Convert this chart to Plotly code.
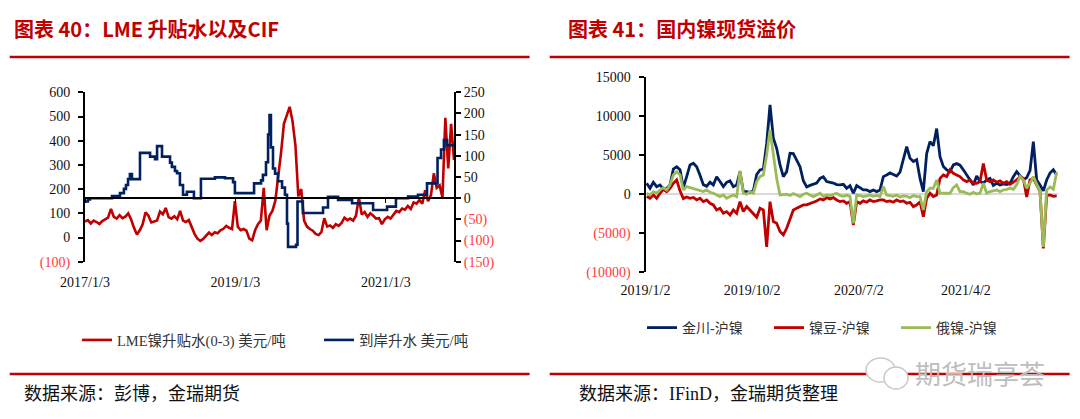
import pandas as pd
import plotly.graph_objects as go

W, H = 1080, 419

# ---------------- Left panel: LME premium (left axis) & CIF premium (right axis) -------------
lme_start = "2017-01-03"
lme_values = [66, 72, 58, 70, 64, 56, 68, 75, 82, 118,
              85, 78, 92, 80, 86, 100, 74, 40, 12, 30,
              55, 104, 90, 62, 66, 70, 107, 96, 122, 84,
              78, 88, 75, 110, 70, 64, 72, 40, 15, -5,
              -14, -6, 8, 20, 10, 22, 18, 30, 36, 48,
              40, 35, 150, 45, 30, 35, 28, -5, -12, 30,
              55, 70, 205, 30, 90, 110, 150, 240, 350, 470,
              510, 540, 480, 380, 170, 200, 70, 45, 35, 28,
              15, 10, 22, 80, 45, 50, 40, 55, 48, 60,
              82, 72, 78, 70, 90, 165, 95, 105, 85, 100,
              90, 78, 80, 55, 75, 85, 78, 95, 110, 105,
              120, 115, 130, 118, 145, 140, 155, 140, 195, 150,
              175, 265, 205, 215, 165, 495, 285, 470, 320]
lme_dates = pd.date_range(lme_start, periods=len(lme_values), freq="14D")

cif_dates = ["2017-01-03", "2017-01-17", "2017-01-27", "2017-05-14", "2017-06-22",
             "2017-07-11", "2017-07-21", "2017-07-31", "2017-08-09", "2017-08-19",
             "2017-09-27", "2017-11-15", "2017-12-09", "2017-12-19", "2018-01-12",
             "2018-02-20", "2018-03-01", "2018-03-16", "2018-03-26", "2018-04-09",
             "2018-04-24", "2018-05-13", "2018-06-16", "2018-07-20", "2018-09-26",
             "2018-11-14", "2018-12-23", "2019-01-01", "2019-04-04", "2019-05-08",
             "2019-05-17", "2019-06-01", "2019-06-11", "2019-06-18", "2019-06-25",
             "2019-07-05", "2019-07-15", "2019-07-29", "2019-08-18", "2019-09-01",
             "2019-09-11", "2019-09-16", "2019-10-25", "2019-11-01", "2019-11-27",
             "2020-03-04", "2020-03-28", "2020-05-16", "2020-07-23", "2020-11-02",
             "2021-01-09", "2021-02-21", "2021-04-21", "2021-06-08", "2021-07-22",
             "2021-09-11", "2021-09-28", "2021-10-12", "2021-10-27", "2021-11-30"]
cif_values = [-8, -3, 0, 5, 12,
              22, 31, 45, 57, 45,
              107, 98, 92, 123, 98,
              84, 74, 64, 59, 31,
              8, 15, 0, 46, 49,
              47, 38, 12, 35, 42,
              55, 85, 150, 196, 120,
              70, 58, 40, 25, 8,
              -60, -115, -110, -8, -35,
              -22, 3, -4, -12, -28,
              -20, 0, 4, 8, 35,
              95, 115, 137, 125, 125]

left_range = ["2017-01-03", "2021-11-30"]
left_x_ticks = ["2017-01-03", "2019-01-03", "2021-01-03"]
left_x_labels = ["2017/1/3", "2019/1/3", "2021/1/3"]
left_y_ticks = [-100, 0, 100, 200, 300, 400, 500, 600]
left_y2_ticks = [-150, -100, -50, 0, 50, 100, 150, 200, 250]

# ---------------- Right panel: domestic nickel spot premiums ----------------
prem_start = "2019-01-05"
jinchuan = [1370, 730, 1500, 940, 1160, 640, 700, 1160, 3200, 3500,
            3100, 800, 2230, 3730, 3940, 3500, 2400, 1200, 1000, 1500,
            1160, 2200, 1600, 940, 1500, 1700, 940, 1160, 2870, 300,
            300, 200, 400, 2500, 3090, 3200, 6500, 11450, 7160, 5870,
            3730, 2230, 2870, 5230, 5200, 4400, 3500, 1700, 900, 1100,
            1300, 1400, 2000, 2200, 1600, 1500, 1400, 1200, 1160, 1240,
            730, 1070, 90, 1070, 730, 510, 510, 300, 510, 300,
            510, 2230, 2440, 2700, 2500, 2300, 2800, 4500, 6090, 4590,
            4160, 4400, 2000, 300, 5200, 6730, 6200, 8400, 4800, 3520,
            3100, 2870, 3730, 3900, 3700, 3100, 2500, 1800, 1160, 2300,
            1600, 1400, 1800, 2000, 1100, 1370, 1160, 1300, 1200, 1370,
            2230, 2870, 2300, 1800, 2100, 3000, 6730, 1800, 1160, 400,
            1790, 2690, 3120, 2440]
nidou = [-340, -560, -130, -560, 90, 600, 300, 730, 1370, 1800,
         400, -600, -400, -560, -450, -770, -560, -990, -770, -1200,
         -1410, -2060, -1840, -2490, -2270, -2700, -2060, -2490, -1000, -2270,
         -1630, -2060, -2490, -3000, -1840, -2060, -6800, -990, -3560, -3770,
         -4840, -5270, -4420, -3340, -2060, -1840, -1630, -1410, -1410, -1200,
         -1070, -900, -640, -770, -470, -640, -470, -770, -990, -900,
         -1200, -990, -3990, -990, -1200, -900, -1070, -770, -990, -900,
         -770, -770, -990, -900, -1070, -770, -990, -900, -1200, -1070,
         -1630, -1410, -990, -2920, -560, 90, -340, -130, 2000, 2440,
         2230, 3090, 2660, 2440, 2230, 1800, 1590, 1800, 1370, 1370,
         1590, 3900, 1800, 1590, 1800, 1500, 1670, 1370, 1590, 1240,
         1500, 1800, 2230, 2000, -400, 1800, 2000, 1160, 300, -7000,
         -200, -130, -300, -250]
eni = [90, -130, 300, 90, 510, 810, 510, 1160, 2440, 2870,
       2440, 510, 940, 810, 730, 510, 390, 300, 510, 210,
       90, -130, -340, -130, -560, -340, -130, -340, 3000, 90,
       -40, 300, 90, 1590, 2230, 2440, 5020, 8230, 4800, 2000,
       -130, -130, -40, -210, 40, -130, -340, -40, 90, -130,
       -340, -130, 90, -340, -130, -210, -40, 90, -200, -300,
       -150, -340, -3770, -130, -200, -340, -250, -130, -300, -200,
       -340, 940, -130, -200, -300, -130, -400, -250, -300, -470,
       -200, -340, -340, -2060, 300, 730, 730, 1800, 90, 90,
       90, 90, 810, 1160, 300, 300, 100, -40, 200, 0,
       100, 1370, 90, 300, 400, 510, 300, 510, 600, 730,
       600, 1160, 2230, 1800, 730, 1370, 2230, 1160, 300, -6800,
       500, 900, 600, 2800]
prem_dates = pd.date_range(prem_start, periods=len(jinchuan), freq="205h")

right_range = ["2019-01-02", "2021-11-24"]
right_x_ticks = ["2019-01-02", "2019-10-02", "2020-07-02", "2021-04-02"]
right_x_labels = ["2019/1/2", "2019/10/2", "2020/7/2", "2021/4/2"]
right_y_ticks = [-10000, -5000, 0, 5000, 10000, 15000]

# ---------------- styling ----------------
RED = "#C00000"
NAVY = "#002060"
GREEN = "#9BBB59"
NEG = "#FF3B3B"
SERIF = "Liberation Serif, Noto Sans CJK SC"
CJK = "Noto Sans CJK SC"


def fmt(v):
    if v < 0:
        return f'<span style="color:{NEG}">({abs(v)})</span>'
    return str(v)


def px_x(p):
    return p / W


def px_y(p):
    return 1 - p / H


L_X0, L_X1 = px_x(85), px_x(454)
L_Y0, L_Y1 = px_y(261.7), px_y(92.3)
R_X0, R_X1 = px_x(645.5), px_x(1058)
R_Y0, R_Y1 = px_y(271.7), px_y(77.3)

y2_min, y2_max = left_y2_ticks[0], left_y2_ticks[-1]
zero_pos = L_Y0 + (0 - y2_min) / (y2_max - y2_min) * (L_Y1 - L_Y0)

fig = go.Figure()
fig.add_trace(go.Scatter(x=lme_dates, y=lme_values, mode="lines",
                         name="LME镍升贴水(0-3) 美元/吨",
                         line=dict(color=RED, width=2.6),
                         xaxis="x", yaxis="y", legend="legend"))
fig.add_trace(go.Scatter(x=cif_dates, y=cif_values, mode="lines",
                         name="到岸升水 美元/吨",
                         line=dict(color=NAVY, width=2.6, shape="hv"),
                         xaxis="x", yaxis="y2", legend="legend"))
fig.add_trace(go.Scatter(x=[left_range[0], left_range[1]], y=[None, None], mode="lines",
                         showlegend=False, hoverinfo="skip",
                         xaxis="x3", yaxis="y"))

fig.add_trace(go.Scatter(x=prem_dates, y=jinchuan, mode="lines", name="金川-沪镍",
                         line=dict(color=NAVY, width=2.8),
                         xaxis="x2", yaxis="y3", legend="legend2"))
fig.add_trace(go.Scatter(x=prem_dates, y=nidou, mode="lines", name="镍豆-沪镍",
                         line=dict(color=RED, width=2.8),
                         xaxis="x2", yaxis="y3", legend="legend2"))
fig.add_trace(go.Scatter(x=prem_dates, y=eni, mode="lines", name="俄镍-沪镍",
                         line=dict(color=GREEN, width=2.8),
                         xaxis="x2", yaxis="y3", legend="legend2"))

tickfont = dict(family=SERIF, size=14, color="#111")

fig.update_layout(
    width=W, height=H, autosize=False,
    margin=dict(l=0, r=0, t=0, b=0, autoexpand=False),
    paper_bgcolor="white", plot_bgcolor="white",
    showlegend=True,
    xaxis=dict(domain=[L_X0, L_X1], type="date", range=left_range,
               tickvals=left_x_ticks, ticktext=left_x_labels, ticks="",
               showline=False, showgrid=False, zeroline=False, automargin=False,
               tickfont=tickfont, ticklabelstandoff=10, anchor="y"),
    xaxis3=dict(overlaying="x", anchor="free", position=zero_pos, type="date",
                range=left_range, tickvals=left_x_ticks, ticks="outside",
                ticklen=4, tickwidth=1, tickcolor="black", automargin=False,
                showticklabels=False, showline=True, linecolor="black",
                linewidth=1.5, showgrid=False, zeroline=False),
    yaxis=dict(domain=[L_Y0, L_Y1], range=[left_y_ticks[0], left_y_ticks[-1]],
               tickvals=left_y_ticks, ticktext=[fmt(v) for v in left_y_ticks],
               ticks="outside", ticklen=5, tickcolor="black", tickwidth=1.5,
               showline=True, linecolor="black", linewidth=2, automargin=False,
               showgrid=False, zeroline=False, tickfont=tickfont,
               ticklabelstandoff=5, anchor="x"),
    yaxis2=dict(overlaying="y", side="right", anchor="x",
                range=[y2_min, y2_max], automargin=False,
                tickvals=left_y2_ticks, ticktext=[fmt(v) for v in left_y2_ticks],
                ticks="outside", ticklen=5, tickcolor="black", tickwidth=1.5,
                showline=True, linecolor="black", linewidth=2,
                showgrid=False, zeroline=False, tickfont=tickfont),
    xaxis2=dict(domain=[R_X0, R_X1], type="date", range=right_range,
                tickvals=right_x_ticks, ticktext=right_x_labels, ticks="",
                showline=False, showgrid=False, zeroline=False, automargin=False,
                tickfont=tickfont, ticklabelstandoff=8, anchor="y3"),
    yaxis3=dict(domain=[R_Y0, R_Y1], range=[right_y_ticks[0], right_y_ticks[-1]],
                tickvals=right_y_ticks, ticktext=[fmt(v) for v in right_y_ticks],
                ticks="outside", ticklen=5, tickcolor="black", tickwidth=1.5,
                showline=True, linecolor="black", linewidth=2, automargin=False,
                showgrid=False, zeroline=True, zerolinecolor="#D9D9D9",
                zerolinewidth=2, tickfont=tickfont, ticklabelstandoff=5,
                anchor="x2"),
    legend=dict(orientation="h", x=px_x(77), y=px_y(340), xanchor="left",
                yanchor="middle", font=dict(family=SERIF, size=14.5, color="#333"),
                entrywidth=197, entrywidthmode="pixels", bgcolor="rgba(0,0,0,0)",
                traceorder="normal"),
    legend2=dict(orientation="h", x=px_x(642), y=px_y(328), xanchor="left",
                 yanchor="middle", font=dict(family=SERIF, size=14, color="#333"),
                 entrywidth=82, entrywidthmode="pixels", bgcolor="rgba(0,0,0,0)",
                 traceorder="normal"),
)

# titles, rules, sources, watermark
annots = [
    dict(text="<b>图表 40：LME 升贴水以及CIF</b>", x=px_x(12), y=px_y(29)),
    dict(text="<b>图表 41：国内镍现货溢价</b>", x=px_x(566), y=px_y(29)),
]
for a in annots:
    fig.add_annotation(text=a["text"], x=a["x"], y=a["y"], xref="paper", yref="paper",
                       xanchor="left", yanchor="middle", showarrow=False,
                       font=dict(family=CJK, size=20, color=RED))

fig.add_annotation(text="数据来源：彭博，金瑞期货", x=px_x(22), y=px_y(394),
                   xref="paper", yref="paper", xanchor="left", yanchor="middle",
                   showarrow=False, font=dict(family=SERIF, size=18, color="#111"))
fig.add_annotation(text="数据来源：IFinD，金瑞期货整理", x=px_x(577), y=px_y(394),
                   xref="paper", yref="paper", xanchor="left", yanchor="middle",
                   showarrow=False, font=dict(family=SERIF, size=18, color="#111"))

for (xa, xb) in [(9.7, 529.6), (549.7, 1069.6)]:
    for yy in (57, 374):
        fig.add_shape(type="line", xref="paper", yref="paper",
                      x0=px_x(xa), x1=px_x(xb), y0=px_y(yy), y1=px_y(yy),
                      line=dict(color=RED, width=2.5))

# watermark
fig.add_shape(type="circle", xref="paper", yref="paper",
              x0=px_x(866), x1=px_x(895), y0=px_y(382), y1=px_y(358),
              line=dict(color="#C8C8C8", width=1.5), fillcolor="white")
fig.add_shape(type="circle", xref="paper", yref="paper",
              x0=px_x(884), x1=px_x(908), y0=px_y(389), y1=px_y(367),
              line=dict(color="#C8C8C8", width=1.5), fillcolor="white")
fig.add_annotation(text="期货瑞享荟", x=px_x(913), y=px_y(372), xref="paper",
                   yref="paper", xanchor="left", yanchor="middle", showarrow=False,
                   font=dict(family=CJK, size=26, color="#BDBDBD"))

fig.write_html("out.html", config={"displayModeBar": False},
               post_script="document.body.style.margin='0px';")
